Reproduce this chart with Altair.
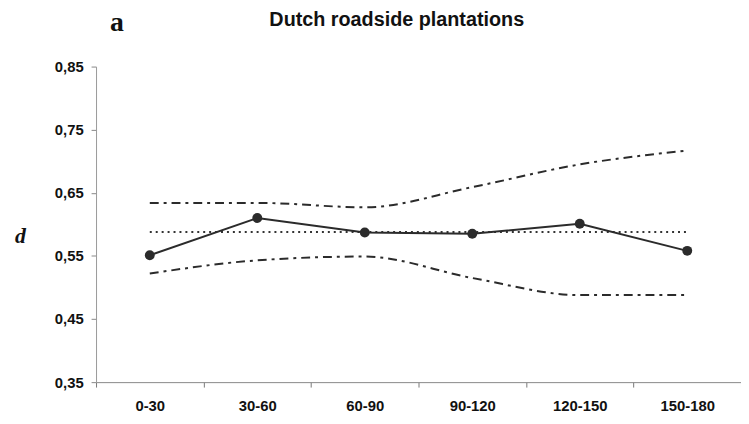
import altair as alt
import pandas as pd

categories = ["0-30", "30-60", "60-90", "90-120", "120-150", "150-180"]
observed = [0.551, 0.610, 0.587, 0.585, 0.601, 0.558]
mean_line = [0.588, 0.588, 0.588, 0.588, 0.588, 0.588]
upper = [0.634, 0.634, 0.627, 0.659, 0.695, 0.717]
lower = [0.522, 0.543, 0.549, 0.515, 0.488, 0.488]

df = pd.DataFrame({
    "cat": categories,
    "obs": observed,
    "mean": mean_line,
    "upper": upper,
    "lower": lower,
})

col = "#2b2b2b"
xenc = alt.X("cat:N", sort=categories, title=None,
             scale=alt.Scale(paddingInner=0, paddingOuter=0),
             axis=alt.Axis(tickBand="extent", labelAngle=0, labelFont="Liberation Sans",
                           labelFontWeight="bold", labelFontSize=15, labelColor="#111",
                           labelPadding=12, tickSize=5, tickColor="#777",
                           domainColor="#888", grid=False))
yscale = alt.Scale(domain=[0.35, 0.85], nice=False, zero=False)
yaxis = alt.Axis(values=[0.35, 0.45, 0.55, 0.65, 0.75, 0.85],
                 labelExpr="replace(format(datum.value, '.2f'), '.', ',')",
                 labelFont="Liberation Sans", labelFontWeight="bold", labelFontSize=15,
                 labelColor="#111", labelPadding=8, tickSize=5, tickColor="#888",
                 domainColor="#999", grid=False,
                 title="d", titleAngle=0, titleFont="Liberation Serif", titleFontStyle="italic",
                 titleFontWeight="bold", titleFontSize=22, titleColor="#111",
                 titleX=-77, titleY=178, titleAlign="center", titleBaseline="alphabetic")

base = alt.Chart(df)

up = base.mark_line(color=col, strokeWidth=2, strokeDash=[9, 5, 3, 5], interpolate="monotone").encode(
    x=xenc, y=alt.Y("upper:Q", scale=yscale, axis=yaxis))
lo = base.mark_line(color=col, strokeWidth=2, strokeDash=[9, 5, 3, 5], interpolate="monotone").encode(
    x=xenc, y=alt.Y("lower:Q", scale=yscale))
mn = base.mark_line(color="#333", strokeWidth=2, strokeDash=[2, 4]).encode(
    x=xenc, y=alt.Y("mean:Q", scale=yscale))
ob = base.mark_line(color=col, strokeWidth=2).encode(
    x=xenc, y=alt.Y("obs:Q", scale=yscale))
pts = base.mark_point(color=col, filled=True, opacity=1, size=100).encode(
    x=xenc, y=alt.Y("obs:Q", scale=yscale))

letter = alt.Chart(pd.DataFrame({"t": ["a"]})).mark_text(
    font="Liberation Serif", fontWeight="bold", fontSize=28, color="#111", baseline="alphabetic",
    align="center").encode(text="t:N", x=alt.value(21), y=alt.value(-36))

heading = alt.Chart(pd.DataFrame({"t": ["Dutch roadside plantations"]})).mark_text(
    font="Liberation Sans", fontWeight="bold", fontSize=20, color="#111", baseline="alphabetic",
    align="center").encode(text="t:N", x=alt.value(304), y=alt.value(-41))

chart = alt.layer(up, lo, mn, ob, pts, letter, heading).properties(
    width=652, height=319
).configure_view(stroke=None).properties(
    autosize=alt.AutoSizeParams(type="none"),
    padding={"left": 89, "top": 57, "right": 0, "bottom": 30}
)

chart.save("out.html", embed_options={"renderer": "svg", "actions": False})
